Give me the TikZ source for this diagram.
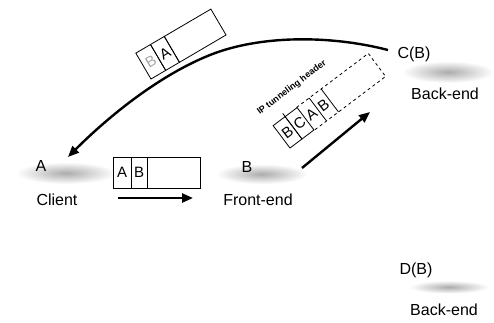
\documentclass[tikz,border=0pt]{standalone}
\usepackage{fontspec}
\setmainfont{Liberation Sans}
\usetikzlibrary{arrows.meta}
\begin{document}
\begin{tikzpicture}[x=1pt,y=-1pt,
  lbl/.style={font=\fontsize{16}{18}\selectfont, inner sep=0pt},
  cell/.style={draw, line width=0.8pt, inner sep=0pt, transform shape,
    font=\fontsize{15}{16}\selectfont},
  hollow/.style={cell, draw=none},
  flow/.style={line width=2.4pt, -{Triangle[length=11pt,width=9pt]}},
  blob/.style={inner color=gray!65, outer color=white},
]
\useasboundingbox (0,0) rectangle (494,322);

% hosts: hazy shadows under the labels
\shade[blob] (66,173) ellipse [x radius=50pt, y radius=11pt];
\shade[blob] (262,174) ellipse [x radius=46pt, y radius=10pt];
\shade[blob] (448,72) ellipse [x radius=46pt, y radius=11pt];
\shade[blob] (449,287) ellipse [x radius=40pt, y radius=6.5pt];

\node[lbl] (hA) at (41,166) {A};
\node[lbl] (client) at (57,200) {Client};
\node[lbl] (hB) at (247,167) {B};
\node[lbl] (front) at (258,200) {Front-end};
\node[lbl] (hC) at (414,54) {C(B)};
\node[lbl] (backC) at (445,94) {Back-end};
\node[lbl] (hD) at (416,270) {D(B)};
\node[lbl] (backD) at (444,310) {Back-end};

% request packet A -> B
\node[cell, minimum width=18pt, minimum height=31pt] (m1) at (122,172.5) {A};
\node[cell, minimum width=16pt, minimum height=31pt] (m2) at (139,172.5) {B};
\node[cell, minimum width=53pt, minimum height=31pt] (m3) at (173.5,172.5) {};

% reply packet B -> A
\begin{scope}[shift={(151,79)}, rotate=30.4]
  \node[cell, minimum width=17pt, minimum height=30pt, text=gray!70] (r1) at (8.5,-15) {B};
  \node[cell, minimum width=16pt, minimum height=30pt] (r2) at (25,-15) {A};
  \node[cell, minimum width=54pt, minimum height=30pt] (r3) at (60,-15) {};
\end{scope}

% tunnelled packet: outer header B|C around the original packet
\begin{scope}[shift={(290,148)}, rotate=37]
  \node[cell, minimum width=15pt, minimum height=28pt] (t1) at (7.5,-14) {B};
  \node[cell, minimum width=15pt, minimum height=28pt] (t2) at (22.5,-14) {C};
  \node[hollow, minimum width=15pt, minimum height=28pt] (t3) at (37.5,-14) {A};
  \node[hollow, minimum width=15pt, minimum height=28pt] (t4) at (52.5,-14) {B};
  \node[hollow, minimum width=59pt, minimum height=28pt] (t5) at (89.5,-14) {};
  \draw[line width=0.8pt, dashed] (t3.north west) -- (t5.north east)
    -- (t5.south east) -- (t3.south west);
  \draw[line width=0.8pt] (t3.north east) -- (t3.south east);
  \draw[line width=0.8pt] (t4.north east) -- (t4.south east);
  \coordinate (tickbase) at (15,-28);
  \coordinate (ticktop) at (15,-32);
  \draw[line width=0.8pt] (tickbase) -- (ticktop);
  \node[font=\bfseries\fontsize{9}{10}\selectfont, inner sep=0pt, transform shape]
    (tunlabel) at (37.7,-47) {IP tunneling header};
\end{scope}

% flows
\coordinate (reqS) at (118,198);
\coordinate (reqE) at (193,198);
\draw[flow] (reqS) -- (reqE);

\coordinate (fwdS) at (302,168);
\coordinate (fwdE) at (370,112);
\draw[flow] (fwdS) -- (fwdE);

\coordinate (repS) at (388,50);
\coordinate (repM) at (210,55);
\coordinate (repE) at (68,157);
\draw[flow] (repS) .. controls (330,35) and (260,35) .. (repM)
  .. controls (160,75) and (110,115) .. (repE);
\end{tikzpicture}
\end{document}
